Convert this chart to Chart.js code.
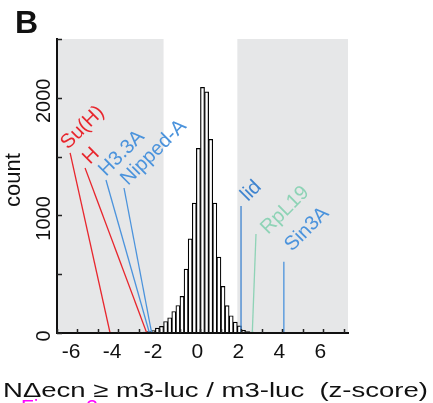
<!DOCTYPE html>
<html>
<head>
<meta charset="utf-8">
<script src="https://cdn.jsdelivr.net/npm/chart.js@4.4.1/dist/chart.umd.min.js"></script>
<style>
  html, body { margin: 0; padding: 0; background: #fff; }
  canvas { display: block; }
</style>
</head>
<body>
<canvas id="hist-chart" width="433" height="403"></canvas>
<script>
// histogram bins (centre of each 0.2-wide bin) and counts
const binCenters = [
  -6.9, -5.7, -5.1, -4.3, -3.9, -3.5, -3.1, -2.9, -2.7, -2.5,
  -2.3, -2.1, -1.9, -1.7, -1.5, -1.3, -1.1, -0.9, -0.7, -0.5, -0.3, -0.1,
  0.1, 0.3, 0.5, 0.7, 0.9, 1.1, 1.3, 1.5, 1.7, 1.9, 2.1, 2.3,
  2.5, 2.7, 2.9, 3.1, 3.5, 3.9, 4.7, 5.3, 6.7, 6.9
];
const binCounts = [
  4, 3, 3, 4, 3, 5, 6, 5, 8, 12,
  20, 42, 56, 98, 130, 183, 234, 311, 543, 800, 1105, 1570,
  2088, 2051, 1647, 1104, 646, 396, 233, 147, 93, 60, 22, 12,
  8, 5, 4, 5, 4, 3, 3, 4, 3, 2
];

// axis ticks
const xTickLabels = [-6, -4, -2, 0, 2, 4, 6];
const yTickLabels = [0, 1000, 2000];

// shaded |z| > 1.8 regions
const shadeRanges = [[-7, -1.8], [1.8, 7.2]];

// highlighted genes: z-score, top of the pointer line, label anchor
const geneNames = ['Su(H)', 'H', 'H3.3A', 'Nipped-A', 'lid', 'RpL19', 'Sin3A'];
const geneZ = [-4.41, -2.62, -2.49, -2.38, 1.98, 2.53, 4.07];
const geneTopZ = [-6.36, -5.63, -4.61, -3.73, 1.98, 2.71, 4.07];
const geneTopCount = [1531, 1403, 1301, 1233, 1080, 842, 606];
const geneLabelZ = [-6.46, -5.39, -4.61, -3.53, 2.32, 3.30, 4.47];
const geneLabelCount = [1556, 1429, 1327, 1250, 1114, 833, 689];
const geneColors = ['#e8262d', '#e8262d', '#4b93dc', '#4b93dc', '#3f84cf', '#8ed3b6', '#4b93dc'];

const FONT = '"Liberation Sans", Arial, sans-serif';

// datasets
const histData = binCenters.map((c, i) => ({ x: c, y: binCounts[i] }));
const geneSets = geneNames.map((name, i) => ({
  type: 'line',
  label: name,
  data: [{ x: geneTopZ[i], y: geneTopCount[i] }, { x: geneZ[i], y: 0 }],
  borderColor: geneColors[i],
  borderWidth: 1.3,
  pointRadius: 0,
  tension: 0,
  fill: false,
  order: 1
}));

// shading, inward ticks and all text
const decorPlugin = {
  id: 'decor',
  beforeDatasetsDraw(chart) {
    const { ctx, chartArea, scales: { x } } = chart;
    ctx.save();
    ctx.fillStyle = '#e6e7e8';
    shadeRanges.forEach(([a, b]) => {
      const x0 = x.getPixelForValue(a);
      const x1 = x.getPixelForValue(b);
      ctx.fillRect(x0, chartArea.top, x1 - x0, chartArea.bottom - chartArea.top);
    });
    ctx.restore();
  },
  afterDraw(chart) {
    const { ctx, chartArea, scales: { x, y } } = chart;
    ctx.save();

    // inward tick marks
    ctx.strokeStyle = '#222';
    ctx.lineWidth = 1.5;
    ctx.beginPath();
    for (let v = -7; v <= 7; v++) {
      const px = Math.round(x.getPixelForValue(v)) + 0.5;
      ctx.moveTo(px, chartArea.bottom);
      ctx.lineTo(px, chartArea.bottom - 4);
    }
    for (let v = 0; v <= 2500; v += 500) {
      const py = Math.round(y.getPixelForValue(v)) + 0.5;
      ctx.moveTo(chartArea.left, py);
      ctx.lineTo(chartArea.left + 5, py);
    }
    ctx.stroke();

    ctx.fillStyle = '#111';

    // x tick labels (digit centred just left of the tick, minus hangs left)
    ctx.font = '21px ' + FONT;
    ctx.textAlign = 'right';
    ctx.textBaseline = 'alphabetic';
    xTickLabels.forEach(v => {
      const px = x.getPixelForValue(v);
      const digitW = ctx.measureText(String(Math.abs(v))).width;
      ctx.fillText(String(v), px - 3 + digitW / 2, chartArea.bottom + 25);
    });

    // y tick labels, rotated
    ctx.font = '20px ' + FONT;
    ctx.textAlign = 'center';
    yTickLabels.forEach(v => {
      const py = y.getPixelForValue(v);
      ctx.save();
      ctx.translate(chartArea.left - 7, py + 3);
      ctx.rotate(-Math.PI / 2);
      ctx.fillText(String(v), 0, 0);
      ctx.restore();
    });

    // y axis title
    ctx.font = '22px ' + FONT;
    ctx.save();
    ctx.translate(20, (chartArea.top + chartArea.bottom) / 2 - 6);
    ctx.rotate(-Math.PI / 2);
    ctx.fillText('count', 0, 0);
    ctx.restore();

    // x axis title, stretched to the reference width
    ctx.font = '21px ' + FONT;
    ctx.textAlign = 'left';
    const xTitle = 'N\u0394ecn \u2265 m3-luc / m3-luc  (z-score)';
    const tw = ctx.measureText(xTitle).width;
    ctx.save();
    ctx.translate(3, 396.5);
    ctx.scale(425 / tw, 1);
    ctx.fillText(xTitle, 0, 0);
    ctx.restore();

    // panel letter
    ctx.font = 'bold 32px ' + FONT;
    ctx.fillText('B', 15, 33);

    // cut-off caption at the bottom edge
    ctx.fillStyle = '#ff00ff';
    ctx.font = '21px ' + FONT;
    ctx.fillText('Figure 3', 21, 414);

    // gene labels
    ctx.font = '20px ' + FONT;
    ctx.textAlign = 'left';
    geneNames.forEach((name, i) => {
      ctx.save();
      ctx.translate(x.getPixelForValue(geneLabelZ[i]), y.getPixelForValue(geneLabelCount[i]));
      ctx.rotate(-Math.PI / 4);
      ctx.fillStyle = geneColors[i];
      ctx.fillText(name, 0, 0);
      ctx.restore();
    });

    ctx.restore();
  }
};

const histCtx = document.getElementById('hist-chart').getContext('2d');
const histChart = new Chart(histCtx, {
  type: 'bar',
  data: {
    datasets: [{
      label: 'count',
      data: histData,
      backgroundColor: '#ffffff',
      borderColor: '#000000',
      borderWidth: 1.2,
      borderSkipped: false,
      barPercentage: 1,
      categoryPercentage: 1,
      order: 2
    }, ...geneSets]
  },
  options: {
    responsive: false,
    devicePixelRatio: 1,
    animation: false,
    layout: { padding: { left: 57, right: 85, top: 39, bottom: 70 } },
    plugins: { legend: { display: false }, tooltip: { enabled: false } },
    scales: {
      x: {
        type: 'linear',
        min: -7,
        max: 7.2,
        offset: false,
        grid: { display: false, drawTicks: false },
        border: { display: true, color: '#111', width: 2, z: 1 },
        ticks: { display: false, stepSize: 1 },
        afterFit: (scale) => { scale.height = 0; }
      },
      y: {
        min: 0,
        max: 2500,
        grid: { display: false, drawTicks: false },
        border: { display: true, color: '#111', width: 2, z: 1 },
        ticks: { display: false, stepSize: 500 },
        afterFit: (scale) => { scale.width = 0; }
      }
    }
  },
  plugins: [decorPlugin]
});
</script>
</body>
</html>
